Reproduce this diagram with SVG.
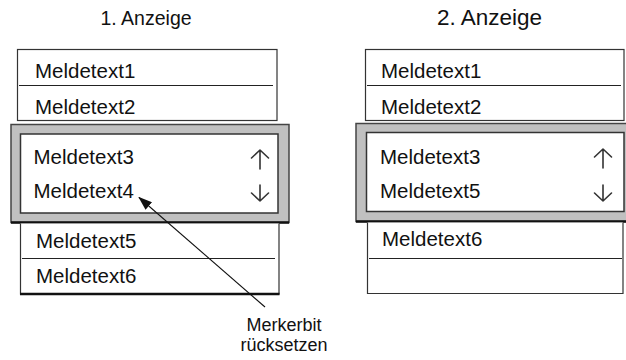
<svg xmlns="http://www.w3.org/2000/svg" width="626" height="360" viewBox="0 0 626 360">
<style>
text{font-family:"Liberation Sans",Arial,sans-serif;fill:#111}
.t{font-size:20.5px}
.box{fill:#fff;stroke:#333;stroke-width:1.2}
.div{stroke:#222;stroke-width:1.2}
.frame{fill:#c0c0c0;stroke:#444;stroke-width:1.5}
.inner{fill:#fff;stroke:#333;stroke-width:1.5}
.thick{stroke:#111;stroke-width:2.5}
.sym{fill:none;stroke:#333;stroke-width:1.6;stroke-linecap:round;stroke-linejoin:round}
.conn{stroke:#111;stroke-width:1.1;fill:none}
</style>
<defs>
<marker id="ah" markerWidth="14" markerHeight="10" refX="13" refY="5" orient="auto" markerUnits="userSpaceOnUse">
<path d="M0,0 L14,5 L0,10 Z" fill="#111"/>
</marker>
</defs>
<text id="title1" x="100.5" y="25" font-size="19.5px">1. Anzeige</text>
<text id="title2" x="437" y="25" font-size="22.5px">2. Anzeige</text>
<g id="panel1">
<g id="p1-top">
<rect class="box" x="17.5" y="49.5" width="259.5" height="71"/>
<line class="div" x1="19" y1="85.5" x2="273" y2="85.5"/>
<text class="t" x="35" y="78">Meldetext1</text>
<text class="t" x="35" y="114">Meldetext2</text>
</g>
<g id="p1-window">
<rect class="frame" x="11" y="124.5" width="278" height="98"/>
<line class="thick" x1="11" y1="222.5" x2="289" y2="222.5"/>
<rect class="inner" x="20.5" y="134" width="257.5" height="79"/>
<text class="t" x="33.5" y="164">Meldetext3</text>
<text class="t" x="33.5" y="198">Meldetext4</text>
<path class="sym" d="M260,150 V169 M251.5,158 L260,150 L268.5,158"/>
<path class="sym" d="M260,185 V201 M251.5,193 L260,201 L268.5,193"/>
</g>
<g id="p1-bottom">
<path class="box" d="M20.5,223.5 V294 H279 V223.5"/>
<line class="div" x1="22" y1="258.5" x2="275" y2="258.5"/>
<line class="thick" x1="20" y1="294" x2="279.5" y2="294"/>
<text class="t" x="36" y="248">Meldetext5</text>
<text class="t" x="36" y="283">Meldetext6</text>
</g>
</g>
<g id="panel2">
<g id="p2-top">
<rect class="box" x="365.5" y="49.5" width="258.5" height="71"/>
<line class="div" x1="367" y1="85.5" x2="621" y2="85.5"/>
<text class="t" x="381" y="78">Meldetext1</text>
<text class="t" x="381" y="114">Meldetext2</text>
</g>
<g id="p2-window">
<rect class="frame" x="356" y="123.5" width="285" height="98"/>
<line class="thick" x1="356" y1="221.5" x2="640" y2="221.5"/>
<rect class="inner" x="366.5" y="132.5" width="257.5" height="79"/>
<text class="t" x="380" y="164">Meldetext3</text>
<text class="t" x="380" y="198">Meldetext5</text>
<path class="sym" d="M603,149 V168 M594.5,157 L603,149 L611.5,157"/>
<path class="sym" d="M603,185 V201 M594.5,193 L603,201 L611.5,193"/>
</g>
<g id="p2-bottom">
<path class="box" d="M367.5,222.5 V293.5 H623 V222.5"/>
<line class="div" x1="369" y1="258.5" x2="622" y2="258.5"/>
<text class="t" x="382" y="246">Meldetext6</text>
</g>
</g>
<g id="label">
<text x="284" y="331" font-size="18px" text-anchor="middle">Merkerbit</text>
<text x="284" y="351" font-size="18px" text-anchor="middle">rücksetzen</text>
</g>
<g id="connectors">
<line class="conn" x1="265" y1="307" x2="139" y2="197.5" marker-end="url(#ah)"/>
</g>
</svg>
